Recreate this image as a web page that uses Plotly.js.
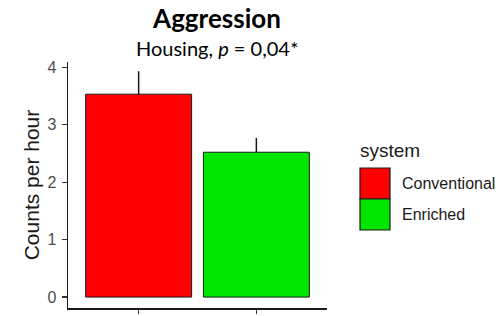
<!DOCTYPE html>
<html>
<head>
<meta charset="utf-8">
<script src="https://cdn.plot.ly/plotly-3.0.1.min.js"></script>
<style>html,body{margin:0;padding:0;background:#fff;}#chart{width:504px;height:316px;}</style>
</head>
<body>
<div id="chart"></div>
<script>
// Data
const categories = ["Conventional", "Enriched"];
const means = [3.53, 2.52];
const errUpper = [0.40, 0.25];
const colors = ["#ff0000", "#00e600"];
const yTicks = [0, 1, 2, 3, 4];
const legendTitle = "system";

const traces = categories.map((c, i) => ({
  type: "bar",
  x: [c],
  y: [means[i]],
  name: c,
  width: 0.9,
  marker: {color: colors[i], line: {color: "#1a1a1a", width: 1}},
  error_y: {type: "data", array: [errUpper[i]], arrayminus: [0], symmetric: false,
            width: 0, thickness: 1.5, color: "#1a1a1a"},
  showlegend: false,
  hoverinfo: "skip"
}));

// Legend drawn as layout decoration
const shapes = [];
const annotations = [];
const keyX0 = 360, keyW = 30, keyH = 31, keyY0 = 168;
function px2paperX(px) { return (px - 68) / 259; }
function px2paperY(py) { return (308 - py) / 246; }
const sans = "Liberation Sans, Arial, sans-serif";
categories.forEach((c, i) => {
  shapes.push({type: "rect", xref: "paper", yref: "paper",
    x0: px2paperX(keyX0), x1: px2paperX(keyX0 + keyW),
    y0: px2paperY(keyY0 + keyH * (i + 1)), y1: px2paperY(keyY0 + keyH * i),
    fillcolor: colors[i], line: {color: "#1a1a1a", width: 1.2}});
  annotations.push({xref: "paper", yref: "paper",
    x: px2paperX(400), y: px2paperY(keyY0 + keyH * i + keyH / 2),
    xanchor: "left", yanchor: "middle", showarrow: false, text: c,
    font: {family: sans, size: 16, color: "#1a1a1a"}});
});
annotations.push({xref: "paper", yref: "paper", x: px2paperX(358), y: px2paperY(150),
  xanchor: "left", yanchor: "middle", showarrow: false, text: legendTitle,
  font: {family: sans, size: 19, color: "#1a1a1a"}});
annotations.push({xref: "paper", yref: "paper", x: px2paperX(217), y: px2paperY(48),
  xanchor: "center", yanchor: "middle", showarrow: false,
  text: "Housing, <i>p</i> = 0,04*",
  font: {family: "Lato, sans-serif", size: 20, color: "#000"}});

const layout = {
  width: 504, height: 316,
  margin: {l: 68, r: 177, t: 62, b: 8, pad: 0},
  paper_bgcolor: "#fff", plot_bgcolor: "#fff",
  title: {text: "<b>Aggression</b>", x: 217 / 504, xref: "container", xanchor: "center",
          y: 1 - 19 / 316, yref: "container", yanchor: "middle",
          font: {family: "Lato, sans-serif", size: 26, color: "#000"}},
  barmode: "overlay",
  xaxis: {type: "category", categoryarray: categories, categoryorder: "array",
          range: [-0.6, 1.6], showticklabels: false, ticks: "outside", ticklen: 4,
          tickcolor: "#333", tickwidth: 1.2, showline: true, linecolor: "#1a1a1a",
          linewidth: 1.5, showgrid: false, zeroline: false, fixedrange: true},
  yaxis: {range: [-0.19, 4.09], tickvals: yTicks, ticktext: yTicks.map(String),
          ticks: "outside", ticklen: 5, tickcolor: "#333", tickwidth: 1.2,
          ticklabelstandoff: 2,
          tickfont: {family: sans, size: 16, color: "#4d4d4d"},
          showline: true, linecolor: "#1a1a1a", linewidth: 1.5, showgrid: false,
          zeroline: false, fixedrange: true,
          title: {text: "Counts per hour", standoff: 2,
                  font: {family: sans, size: 21, color: "#1a1a1a"}}},
  shapes: shapes,
  annotations: annotations,
  showlegend: false
};

Plotly.newPlot("chart", traces, layout, {displayModeBar: false, staticPlot: true});
</script>
</body>
</html>
